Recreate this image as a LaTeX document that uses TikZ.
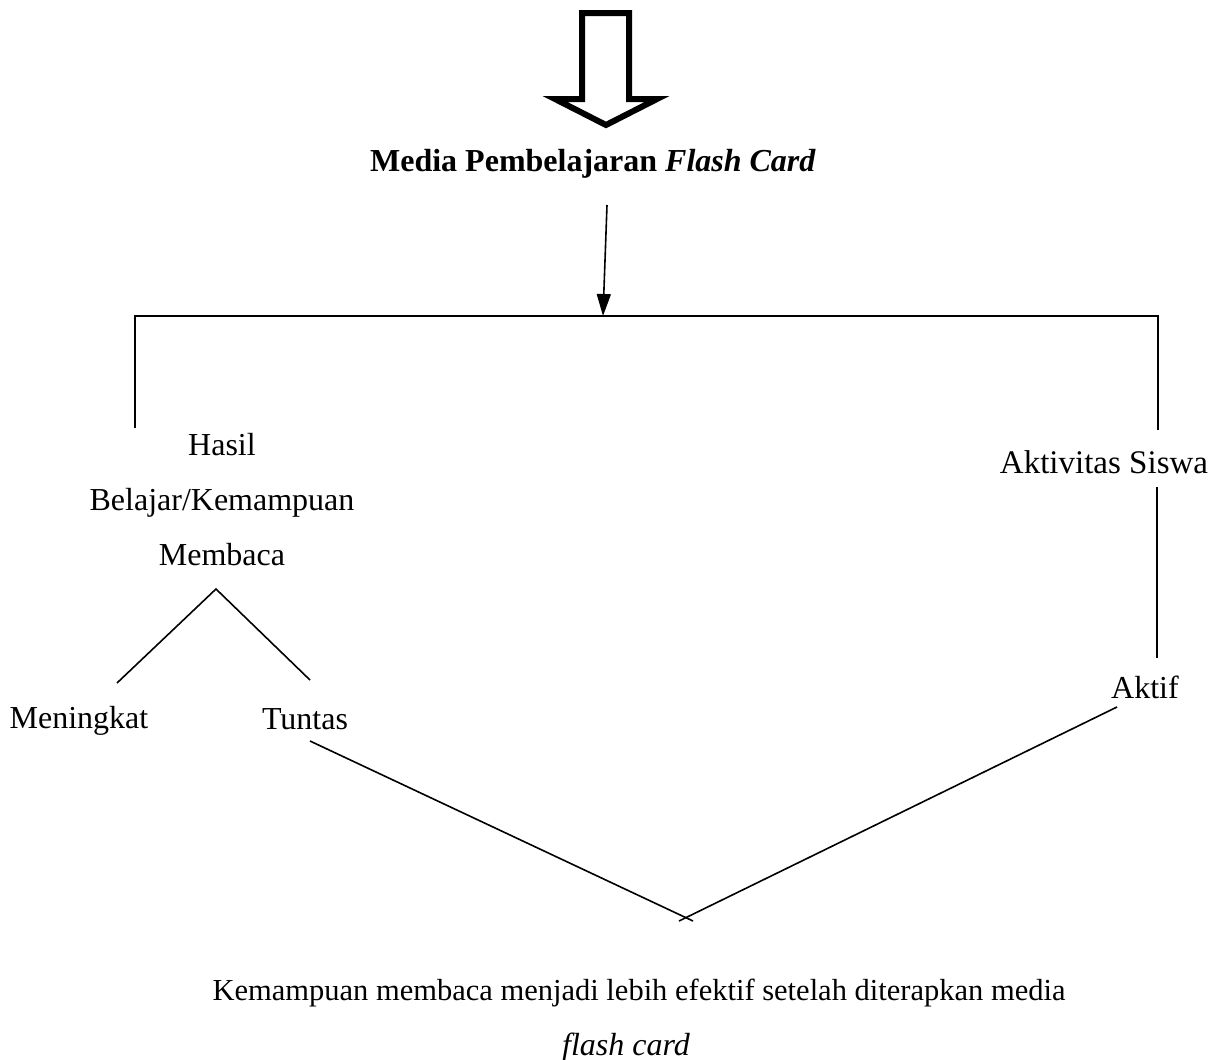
\documentclass[tikz,border=0pt]{standalone}
\usepackage{fontspec}
\setmainfont{Liberation Serif}
\usetikzlibrary{arrows.meta}
\begin{document}
\begin{tikzpicture}[x=1pt,y=-1pt,
  txt/.style={anchor=base,inner sep=0pt,font=\fontsize{32}{38}\selectfont},
  ln/.style={line width=1.6pt},
  every node/.append style={text=black}]
\useasboundingbox (0,0) rectangle (1218,1060);
% hollow arrow
\draw[line width=6pt,line join=miter] (582,13) -- (629,13) -- (629,99) -- (657,99) -- (606,125) -- (555,99) -- (582,99) -- cycle;
% title
\node[txt,font=\fontsize{32}{38}\selectfont\bfseries] (title) at (593,171) {Media Pembelajaran \textit{Flash Card}};
% arrow to bracket
\coordinate (a1) at (607,205);
\coordinate (a2) at (603,316);
\draw[ln,-{Triangle[length=22pt,width=14pt]}] (a1) -- (a2);
% bracket
\coordinate (bl) at (135,316);
\coordinate (br) at (1158,316);
\coordinate (bld) at (135,428);
\coordinate (brd) at (1158,430);
\draw[ln] (bld) -- (bl) -- (br) -- (brd);
% left branch text
\node[txt] (hasil) at (222,455) {Hasil};
\node[txt] (belajar) at (222,510) {Belajar/Kemampuan};
\node[txt] (membaca) at (222,565) {Membaca};
% right branch
\node[txt,font=\fontsize{33}{38}\selectfont] (aktivitas) at (1104,473) {Aktivitas Siswa};
\coordinate (r1) at (1157,487);
\coordinate (r2) at (1157,658);
\draw[ln] (r1) -- (r2);
\node[txt] (aktif) at (1145,698) {Aktif};
% left tree
\coordinate (apex) at (216,589);
\coordinate (tl) at (117,683);
\coordinate (tr) at (310,680);
\draw[ln] (tl) -- (apex) -- (tr);
\node[txt] (meningkat) at (79,728) {Meningkat};
\node[txt] (tuntas) at (305,729) {Tuntas};
% converging lines
\coordinate (c1) at (310,741);
\coordinate (c1e) at (693,921);
\coordinate (c2) at (1117,707);
\coordinate (c2e) at (679,921);
\draw[ln] (c1) -- (c1e);
\draw[ln] (c2) -- (c2e);
% conclusion
\node[txt,font=\fontsize{30.5}{38}\selectfont] (concl) at (639,1000) {Kemampuan membaca menjadi lebih efektif setelah diterapkan media};
\node[txt] (fc) at (626,1055) {\textit{flash card}};
\end{tikzpicture}
\end{document}
